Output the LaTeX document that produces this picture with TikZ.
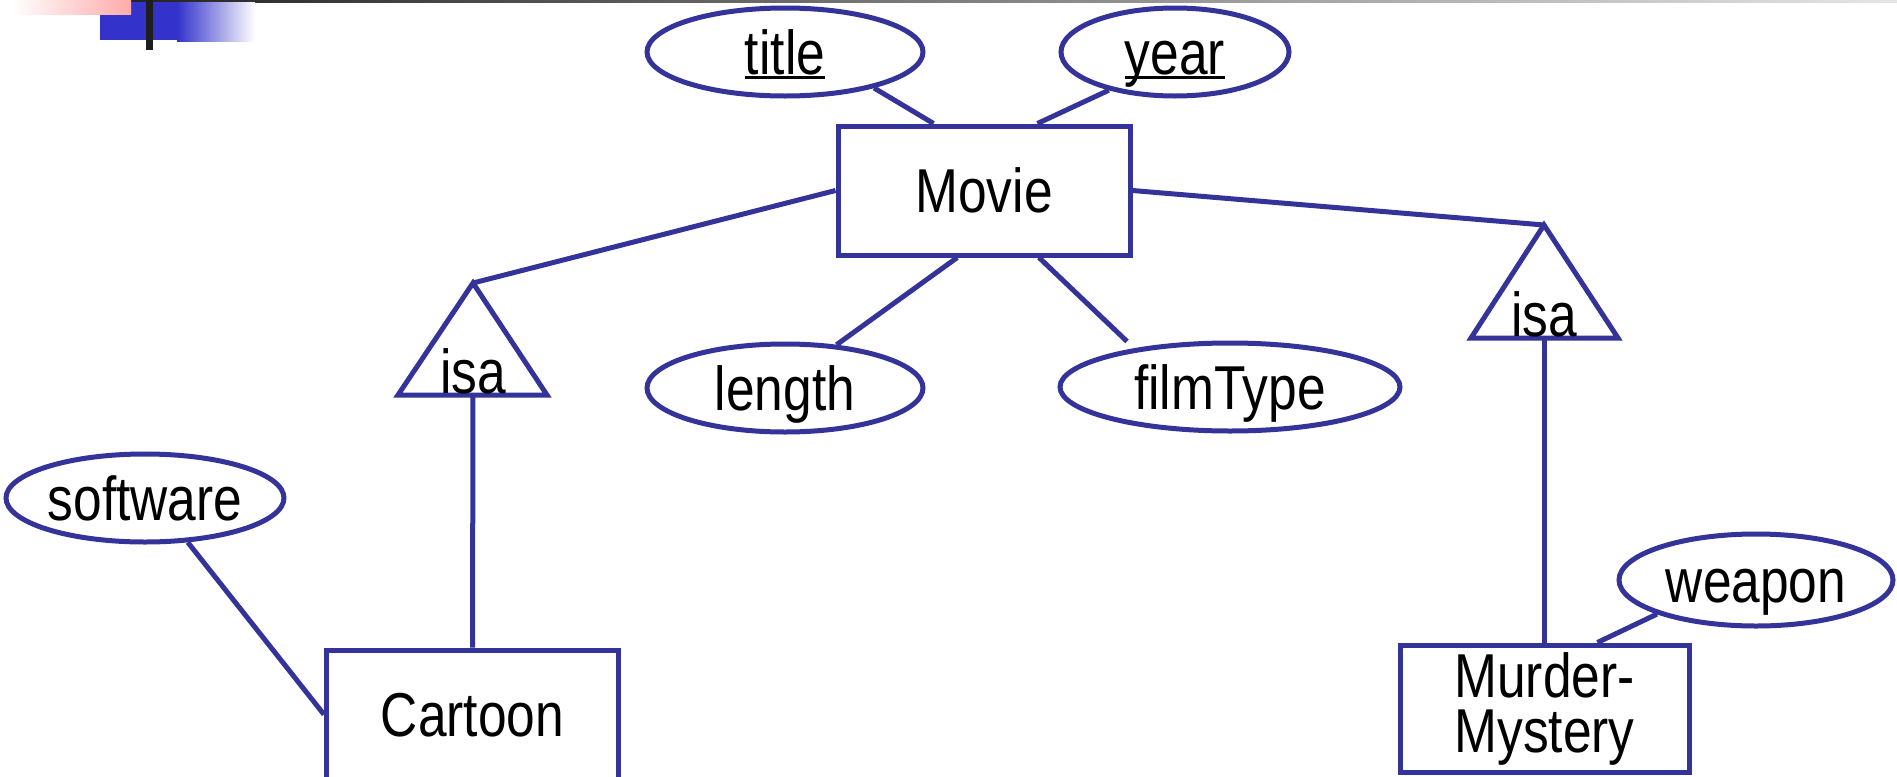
\documentclass[tikz,border=0pt]{standalone}
\usepackage{fontspec}
\setmainfont{Liberation Sans}[FakeStretch=0.83]
\usetikzlibrary{shapes.geometric,calc}
\definecolor{erblue}{RGB}{51,51,153}
\definecolor{decoblue}{RGB}{51,51,204}
\definecolor{decopink}{RGB}{255,170,170}
\definecolor{decodark}{RGB}{30,30,30}
\newcommand\keyul[1]{\setbox0\hbox{#1}\rlap{\rule[-2.6pt]{\wd0}{1.8pt}}\box0}
\begin{document}
\begin{tikzpicture}[x=0.5pt,y=-0.5pt,
  erline/.style={draw=erblue,line width=2.5pt},
  txt/.style={font=\fontsize{31}{27.5}\selectfont,text=black},
  attr/.style={erline,txt,ellipse,inner sep=0pt,minimum height=44pt,text height=22pt,text depth=0pt},
  entity/.style={erline,txt,rectangle,inner sep=0pt,minimum width=146pt,minimum height=64.5pt,text height=22pt,text depth=0pt},
  conn/.style={erline},
  isatri/.style={erline,line join=miter}]
\clip (0,0) rectangle (1897,777);
\fill[white] (0,0) rectangle (1897,777);
% decoration at top left
\shade[left color=decodark,right color=gray!20] (79,0) rectangle (1897,2.5);
\fill[decoblue] (100,2) rectangle (177,40);
\shade[left color=decoblue,right color=white] (177,2) rectangle (255,41);
\shade[left color=white,right color=decopink] (12,0) rectangle (131,14);
\fill[decodark] (146,0) rectangle (153,50);
% entities
\node[entity] (Movie) at (984,190.5) {Movie};
\node[entity] (Cartoon) at (472.5,714.5) {Cartoon};
\node[entity,minimum width=144.5pt,minimum height=63.5pt,align=center,text height=,text depth=] (MM) at (1544.5,708.5) {Murder-\\Mystery};
% attributes
\node[attr,minimum width=138pt] (title) at (785,52) {\keyul{title}};
\node[attr,minimum width=114pt] (year) at (1175,52) {\keyul{year}};
\node[attr,minimum width=138pt] (length) at (785,388) {length};
\node[attr,minimum width=170pt] (filmType) at (1230,387) {filmType};
\node[attr,minimum width=139pt] (software) at (145,498) {software};
\node[attr,minimum width=137pt,minimum height=46pt] (weapon) at (1756,580) {weapon};
% isa triangles
\coordinate (isaLtop) at (473,283);
\coordinate (isaLbl) at (398,395);
\coordinate (isaLbr) at (547,395);
\coordinate (isaLbase) at (473,395);
\draw[isatri] (isaLtop) -- (isaLbr) -- (isaLbl) -- cycle;
\node[txt,anchor=base,inner sep=0pt] (isaL) at (473,393) {isa};
\coordinate (isaRtop) at (1544,225);
\coordinate (isaRbl) at (1471,338);
\coordinate (isaRbr) at (1618,338);
\coordinate (isaRbase) at (1544.5,338);
\draw[isatri] (isaRtop) -- (isaRbr) -- (isaRbl) -- cycle;
\node[txt,anchor=base,inner sep=0pt] (isaR) at (1544,336) {isa};
% connectors
\draw[conn] (title.-22) -- ($(Movie.north west)!0.33!(Movie.north east)$);
\draw[conn] (year.210) -- ($(Movie.north west)!0.68!(Movie.north east)$);
\draw[conn] (Movie.west) -- (isaLtop);
\draw[conn] (Movie.east) -- (isaRtop);
\draw[conn] ($(Movie.south west)!0.41!(Movie.south east)$) -- (length.40);
\draw[conn,shorten >=5pt] ($(Movie.south west)!0.685!(Movie.south east)$) -- (filmType.158);
\draw[conn] (isaLbase) -- (Cartoon.north);
\draw[conn] (software.-46) -- (Cartoon.west);
\draw[conn] (isaRbase) -- (MM.north);
\draw[conn] (weapon.199) -- ($(MM.north west)!0.68!(MM.north east)$);
\end{tikzpicture}
\end{document}
